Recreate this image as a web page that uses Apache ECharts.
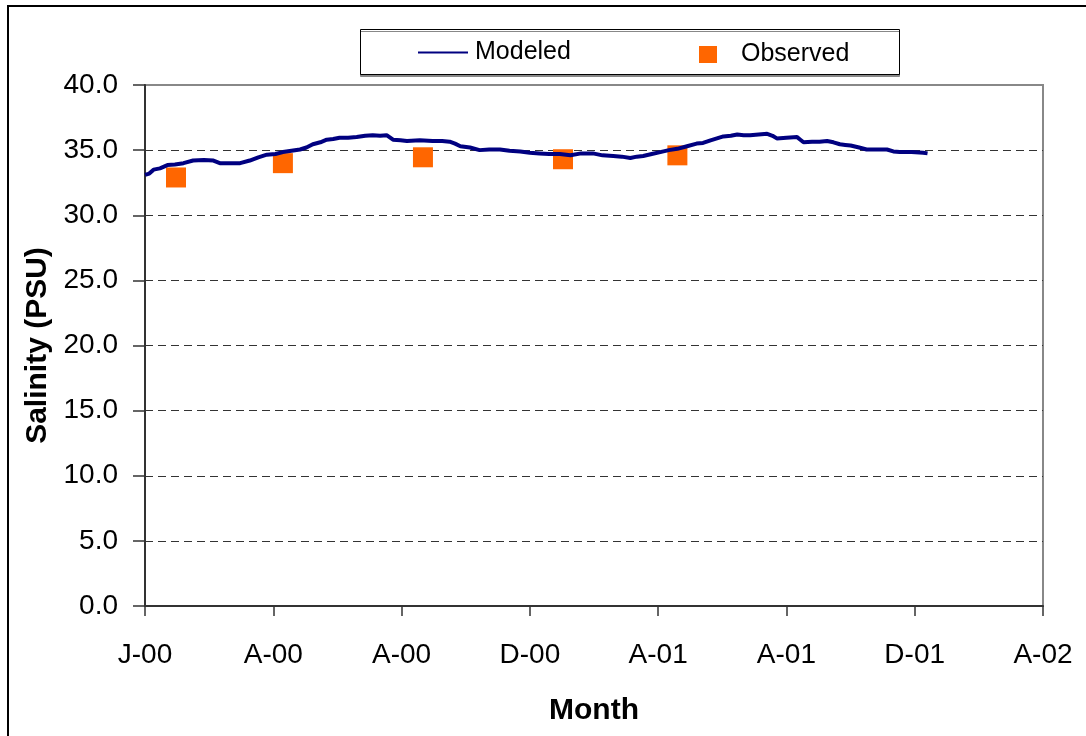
<!DOCTYPE html>
<html>
<head>
<meta charset="utf-8">
<script src="https://cdn.jsdelivr.net/npm/echarts@6/dist/echarts.min.js"></script>
<style>
  html, body { margin: 0; padding: 0; background: #fff; }
  #chart { width: 1086px; height: 736px; }
</style>
</head>
<body>
<div id="chart"></div>
<script>
// x = days since start of Jan 2000, ticks every 120 days
const xTickLabels = ['J-00', 'A-00', 'A-00', 'D-00', 'A-01', 'A-01', 'D-01', 'A-02'];

// modeled salinity
const modeledDays = [0, 4, 8, 14, 21, 28, 36, 45, 55, 64, 70, 80, 89, 98, 106, 114, 122, 129, 137, 145, 151, 157, 164, 170, 176, 182, 190, 198, 206, 213, 220, 226, 232, 239, 245,
    257, 269, 278, 285, 290, 295, 304, 313, 322, 332, 341, 351, 360, 369, 378, 388, 398, 408, 419, 428, 438, 446, 454, 460, 466, 474, 482, 490, 498, 507, 516, 522, 529, 535, 541, 548, 554, 560, 566, 574, 582,
    587, 591, 600, 610, 613, 616, 624, 631, 638, 644, 650, 655, 660, 668, 675, 684, 694, 700, 706, 717, 728, 732];
const modeledSal = [33.1, 33.2, 33.5, 33.6, 33.85, 33.9, 34.0, 34.2, 34.25, 34.2, 34.0, 34.0, 34.0, 34.2, 34.45, 34.65, 34.7, 34.85, 34.95, 35.05, 35.2, 35.45, 35.6, 35.8, 35.85, 35.95, 35.95, 36.0, 36.1, 36.15, 36.1, 36.15, 35.8, 35.75, 35.7,
    35.75, 35.7, 35.7, 35.65, 35.5, 35.3, 35.2, 35.0, 35.05, 35.05, 34.95, 34.9, 34.8, 34.75, 34.7, 34.7, 34.6, 34.75, 34.75, 34.6, 34.55, 34.5, 34.4, 34.5, 34.55, 34.7, 34.85, 35.0, 35.1, 35.3, 35.5, 35.55, 35.75, 35.9, 36.05, 36.1, 36.2, 36.15, 36.15, 36.2, 36.25,
    36.1, 35.9, 35.95, 36.0, 35.8, 35.6, 35.65, 35.65, 35.7, 35.6, 35.45, 35.4, 35.35, 35.2, 35.05, 35.05, 35.05, 34.9, 34.85, 34.85, 34.8, 34.75];

// observed samples
const observedDays = [29, 129, 260, 391, 498];
const observedSal = [32.9, 34.0, 34.45, 34.3, 34.6];

const chart = echarts.init(document.getElementById('chart'));
const FONT = '"Liberation Sans", Arial, sans-serif';

const gridColors = ['#333', '#333', '#333', '#333', '#333', '#333', '#333', '#333', '#888'];

chart.setOption({
    animation: false,
    backgroundColor: '#fff',
    textStyle: { fontFamily: FONT, color: '#000' },
    grid: {
        left: 145, right: 43, top: 85, bottom: 130,
        show: true, borderColor: '#888', borderWidth: 2, backgroundColor: 'transparent'
    },
    graphic: [
        // outer chart frame
        { type: 'rect', shape: { x: 8, y: 6, width: 1100, height: 800 },
          style: { fill: 'none', stroke: '#000', lineWidth: 2 }, z: -1 },
        // legend box with shadow
        { type: 'rect', shape: { x: 360.5, y: 29.5, width: 539, height: 45 },
          style: { fill: '#fff', stroke: '#000', lineWidth: 1,
                   shadowColor: '#888', shadowOffsetX: 0, shadowOffsetY: 2, shadowBlur: 0 }, z: 0 }
    ],
    legend: [
        { data: [{ name: 'Modeled', icon: 'path://M0,0H50V2H0Z' }],
          left: 418, top: 40, itemWidth: 50, itemHeight: 17, itemGap: 0, padding: 0,
          textStyle: { fontSize: 25, fontFamily: FONT, color: '#000', padding: [0, 0, 0, 2] }, z: 5 },
        { data: [{ name: 'Observed', icon: 'rect' }],
          left: 699, top: 42, itemWidth: 18, itemHeight: 17, itemGap: 0, padding: 0,
          itemStyle: { opacity: 1 },
          textStyle: { fontSize: 25, fontFamily: FONT, color: '#000', padding: [-2, 0, 0, 19] }, z: 5 }
    ],
    xAxis: {
        type: 'value', min: 0, max: 840, interval: 120,
        name: 'Month', nameLocation: 'middle', nameGap: 90,
        nameTextStyle: { fontSize: 30, fontWeight: 'bold', fontFamily: FONT, color: '#000' },
        axisLine: { show: true, lineStyle: { color: '#333', width: 2 } },
        axisTick: { show: true, length: 10, lineStyle: { color: '#333', width: 1.5 } },
        axisLabel: {
            fontSize: 28, color: '#000', margin: 35, fontFamily: FONT,
            showMinLabel: true, showMaxLabel: true,
            formatter: (v) => xTickLabels[Math.round(v / 120)] || ''
        },
        splitLine: { show: false }
    },
    yAxis: {
        type: 'value', min: 0, max: 40, interval: 5,
        name: 'Salinity (PSU)', nameLocation: 'middle', nameGap: 92, nameRotate: 90,
        nameTextStyle: { fontSize: 30, fontWeight: 'bold', fontFamily: FONT, color: '#000' },
        axisLine: { show: true, lineStyle: { color: '#333', width: 2 } },
        axisTick: { show: true, length: 12, lineStyle: { color: '#333', width: 1.5 } },
        axisLabel: {
            fontSize: 28, color: '#000', margin: 27, fontFamily: FONT,
            formatter: (v) => v.toFixed(1)
        },
        splitLine: { show: true, lineStyle: { type: [8, 5], color: gridColors, width: 1 } }
    },
    series: [
        {
            name: 'Modeled', type: 'line',
            data: modeledDays.map((d, i) => [d, modeledSal[i]]),
            showSymbol: false, symbol: 'none', smooth: false,
            lineStyle: { color: '#000080', width: 4 },
            itemStyle: { color: '#000080' },
            z: 3
        },
        {
            name: 'Observed', type: 'scatter',
            data: observedDays.map((d, i) => [d, observedSal[i]]),
            symbol: 'rect', symbolSize: 20,
            itemStyle: { color: '#FF6600', opacity: 1 },
            z: 2
        }
    ]
});
</script>
</body>
</html>
